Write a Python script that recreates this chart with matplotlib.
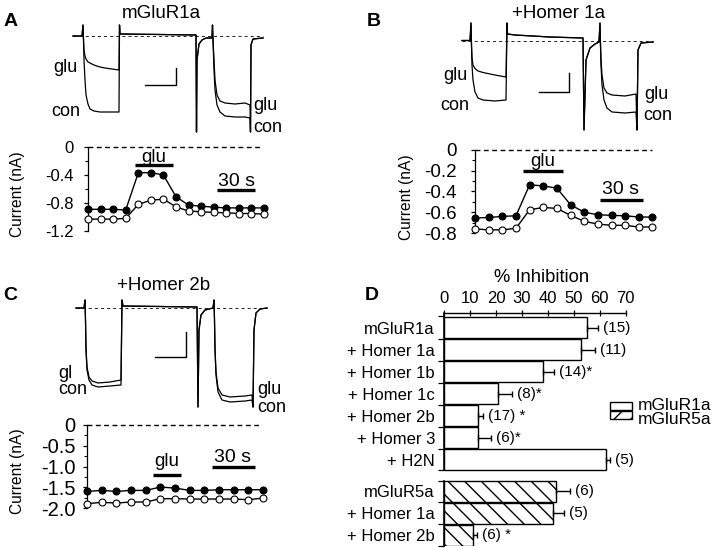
import numpy as np
import matplotlib
matplotlib.use('Agg')
import matplotlib.pyplot as plt
import matplotlib.transforms as mtransforms
from matplotlib.patches import Rectangle

plt.rcParams['font.family'] = ['Liberation Sans', 'DejaVu Sans']
plt.rcParams['axes.unicode_minus'] = False
plt.rcParams['lines.scale_dashes'] = False
plt.rcParams['hatch.linewidth'] = 1.0

# ---------------- data ----------------
# Panel A traces (time ms, current nA); glu and con share time vertices
a_trace_t = [0, 45, 50, 52.5, 55, 60, 65, 75, 85, 105, 135, 160, 230,
             232.5, 235, 435, 615, 617.5, 620, 630, 645, 665, 695,
             697.5, 700, 705, 710, 720, 735, 760, 810, 860, 885,
             887.5, 890, 900, 950]
a_trace_con = [0, 0, 0.11, -0.04, -0.24, -0.44, -0.59, -0.68, -0.73, -0.75, -0.76, -0.76, -0.76,
               0.11, 0.02, 0.015, 0.01, -0.96, -0.24, -0.08, -0.04, -0.02, -0.02,
               0.11, -0.04, -0.34, -0.54, -0.69, -0.76, -0.80, -0.81, -0.81, -0.82,
               -0.96, -0.09, -0.03, -0.02]
a_trace_glu = [0, 0, 0.11, -0.04, -0.14, -0.20, -0.23, -0.26, -0.27, -0.29, -0.31, -0.32, -0.34,
               0.11, 0.02, 0.015, 0.01, -0.96, -0.24, -0.08, -0.04, -0.02, -0.02,
               0.11, -0.04, -0.24, -0.44, -0.59, -0.65, -0.67, -0.68, -0.67, -0.69,
               -0.96, -0.09, -0.03, -0.02]
a_scalebar = [360, 155, -0.49, 0.17]   # t0, length, I0, height

# Panel B traces
b_trace_t = [0, 40, 45, 47.5, 50, 55, 65, 80, 105, 165, 220,
             225, 227.5, 265, 440, 605, 610, 620, 640, 665, 685,
             690, 692.5, 695, 700, 710, 725, 750, 815, 870,
             875, 880, 895, 955]
b_trace_con = [0, 0, 0.175, -0.045, -0.245, -0.395, -0.515, -0.575, -0.595, -0.605, -0.595,
               0.175, 0.065, 0.055, 0.035, 0.025, -0.895, -0.195, -0.075, -0.035, -0.015,
               0.175, -0.045, -0.245, -0.445, -0.595, -0.675, -0.715, -0.725, -0.715,
               -0.895, -0.095, -0.025, -0.015]
b_trace_glu = [0, 0, 0.175, -0.045, -0.175, -0.245, -0.28, -0.305, -0.32, -0.345, -0.365,
               0.175, 0.065, 0.055, 0.035, 0.025, -0.895, -0.195, -0.075, -0.035, -0.015,
               0.175, -0.045, -0.195, -0.345, -0.475, -0.525, -0.545, -0.555, -0.535,
               -0.895, -0.095, -0.025, -0.015]
b_scalebar = [385, 150, -0.515, 0.19]

# Panel C traces
c_trace_t = [0, 40, 45, 47.5, 50, 55, 65, 80, 110, 170, 225,
             230, 235, 420, 605, 610, 615, 625, 645, 685,
             690, 692.5, 695, 700, 710, 730, 770, 845, 880,
             885, 890, 900, 920, 955]
c_trace_con = [0, 0, 0.08, -0.12, -0.42, -0.62, -0.72, -0.77, -0.79, -0.78, -0.77,
               0.08, 0.02, 0.015, 0.01, -0.99, -0.22, -0.07, -0.02, 0,
               0.08, -0.12, -0.42, -0.67, -0.84, -0.92, -0.94, -0.93, -0.92,
               -0.99, -0.22, -0.05, -0.01, 0]
c_trace_glu = [0, 0, 0.08, -0.12, -0.40, -0.59, -0.69, -0.73, -0.75, -0.74, -0.72,
               0.08, 0.02, 0.015, 0.01, -0.99, -0.22, -0.07, -0.02, 0,
               0.08, -0.12, -0.40, -0.64, -0.80, -0.87, -0.89, -0.88, -0.87,
               -0.99, -0.22, -0.05, -0.01, 0]
c_scalebar = [395, 155, -0.49, 0.25]

# Time courses (s, nA)
a_time = [0, 10, 20, 30, 40, 50, 60, 70, 80, 90, 100, 110, 120, 130, 140]
a_filled = [-0.89, -0.89, -0.89, -0.90, -0.37, -0.365, -0.40, -0.71, -0.83, -0.845, -0.86, -0.87, -0.87, -0.87, -0.87]
a_open = [-1.03, -1.03, -1.03, -1.02, -0.82, -0.76, -0.745, -0.855, -0.915, -0.925, -0.935, -0.94, -0.95, -0.95, -0.96]
a_glu = [37.5, 67.5]
a_30s = [102.6, 132.9]

b_time = [0, 10, 20, 30, 40, 50, 60, 70, 80, 90, 100, 110, 120, 130]
b_filled = [-0.656, -0.65, -0.64, -0.634, -0.336, -0.346, -0.368, -0.528, -0.60, -0.624, -0.63, -0.634, -0.646, -0.646]
b_open = [-0.76, -0.77, -0.77, -0.755, -0.576, -0.554, -0.563, -0.63, -0.688, -0.714, -0.726, -0.726, -0.742, -0.742]
b_glu = [35.3, 64.7]
b_30s = [91.9, 122.8]

c_time = [0, 10, 20, 30, 40, 50, 60, 70, 80, 90, 100, 110, 120]
c_filled = [-1.60, -1.576, -1.60, -1.576, -1.576, -1.496, -1.52, -1.576, -1.576, -1.56, -1.56, -1.56, -1.56]
c_open = [-1.896, -1.864, -1.88, -1.856, -1.856, -1.776, -1.776, -1.784, -1.784, -1.784, -1.784, -1.80, -1.76]
c_glu = [45.0, 64.1]
c_30s = [85.2, 114.5]

# Panel D
d_labels = ["mGluR1a", "+ Homer 1a", "+ Homer 1b", "+ Homer 1c", "+ Homer 2b",
            "+ Homer 3", "+ H2N", "mGluR5a", "+ Homer 1a", "+ Homer 2b"]
d_values = [55.2, 52.9, 38.2, 20.9, 13.1, 12.9, 62.3, 43.1, 41.8, 11.0]
d_errors = [4.0, 5.3, 4.2, 5.1, 2.0, 5.1, 1.7, 5.4, 4.4, 1.7]
d_n = [15, 11, 14, 8, 17, 6, 5, 6, 5, 6]
d_sig = ["", "", "*", "*", " *", "*", "", "", "", " *"]
d_receptor = ["mGluR1a"] * 7 + ["mGluR5a"] * 3

# ---------------- figure ----------------
W, H = 720, 548
fig = plt.figure(figsize=(7.2, 5.48), dpi=100)


def rect(x0, y0, x1, y1):
    return [x0 / W, 1 - y1 / H, (x1 - x0) / W, (y1 - y0) / H]


def ftext(x, y, s, size=12, ha='center', va='center', **kw):
    fig.text(x / W, 1 - y / H, s, fontsize=size, ha=ha, va=va, **kw)


def trace_panel(px, tlim, ilim, t, con, glu, sb, base_end):
    ax = fig.add_axes(rect(*px))
    ax.set_xlim(tlim)
    ax.set_ylim(ilim)
    ax.axis('off')
    ax.plot([0, base_end], [0, 0], color='black', lw=0.6, ls=(0, (2.2, 2.2)))
    ax.plot(t, con, color='black', lw=0.9, clip_on=False)
    ax.plot(t, glu, color='black', lw=0.9, clip_on=False)
    t0, L, i0, h = sb
    ax.plot([t0, t0 + L, t0 + L], [i0, i0, i0 + h], color='black', lw=1.0)
    return ax


def course_panel(px, xmax, ylim, time, filled, opn, yt, ytl, minor, pad, tsize,
                 glu, glu_y, s30, s30_y, zero_end):
    ax = fig.add_axes(rect(*px))
    ax.set_xlim(0, xmax)
    ax.set_ylim(*ylim)
    for s in ['top', 'right', 'bottom']:
        ax.spines[s].set_visible(False)
    ax.spines['left'].set_linewidth(0.9)
    ax.set_xticks([])
    ax.set_yticks(yt)
    ax.set_yticklabels(ytl)
    ax.set_yticks(minor, minor=True)
    ax.tick_params(axis='y', which='major', length=3, width=0.9, pad=pad, labelsize=tsize)
    ax.tick_params(axis='y', which='minor', length=2, width=0.8)
    ax.plot([0, zero_end], [0, 0], color='black', lw=1.0, ls=(0, (3.5, 2.5)), clip_on=False)
    ax.plot(time, filled, color='black', lw=1.0, marker='o', ms=5, mfc='black',
            mec='black', mew=0.8, clip_on=False, zorder=3)
    ax.plot(time, opn, color='black', lw=1.0, marker='o', ms=5, mfc='white',
            mec='black', mew=0.8, clip_on=False, zorder=3)
    tr = mtransforms.blended_transform_factory(ax.transData, ax.transAxes)
    ax.plot(glu, [glu_y, glu_y], color='black', lw=2.4, transform=tr, clip_on=False,
            solid_capstyle='butt')
    ax.plot(s30, [s30_y, s30_y], color='black', lw=2.4, transform=tr, clip_on=False,
            solid_capstyle='butt')
    return ax


# ---- Panel A ----
ftext(11, 22, "A", size=14, weight='bold')
ftext(161, 14, "mGluR1a", size=13.5)
trace_panel((70, 18, 270, 140), (-15, 985), (-1.04, 0.18),
            a_trace_t, a_trace_con, a_trace_glu, a_scalebar, 950)
ftext(65, 68, "glu", size=13)
ftext(66, 112, "con", size=13)
ftext(253, 105, "glu", size=13, ha='left')
ftext(253, 127, "con", size=13, ha='left')

course_panel((88, 147, 270, 231), 144.8, (-1.2, 0), a_time, a_filled, a_open,
             [0, -0.4, -0.8, -1.2], ["0", "-0.4", "-0.8", "-1.2"], [-0.2, -0.6, -1.0],
             7.0, 12, a_glu, 0.786, a_30s, 0.488, 139)
ftext(154, 157, "glu", size=13.5)
ftext(236, 181, "30 s", size=14)
ftext(18, 194, "Current (nA)", size=11.2, rotation=90)

# ---- Panel B ----
ftext(374, 22, "B", size=14, weight='bold')
ftext(559, 14, "+Homer 1a", size=13.5)
trace_panel((455, 18, 660, 140), (-35, 990), (-0.995, 0.225),
            b_trace_t, b_trace_con, b_trace_glu, b_scalebar, 955)
ftext(455, 75, "glu", size=13)
ftext(455, 105, "con", size=13)
ftext(644, 94, "glu", size=13, ha='left')
ftext(643, 116, "con", size=13, ha='left')

course_panel((475, 150, 660, 233), 135.5, (-0.8, 0), b_time, b_filled, b_open,
             [0, -0.2, -0.4, -0.6, -0.8], ["0", "-0.2", "-0.4", "-0.6", "-0.8"],
             [-0.1, -0.3, -0.5, -0.7], 10.0, 13.5, b_glu, 0.747, b_30s, 0.398, 130)
ftext(543, 162, "glu", size=13.5)
ftext(621, 189, "30 s", size=14)
ftext(407, 197, "Current (nA)", size=11.2, rotation=90)

# ---- Panel C ----
ftext(10, 295, "C", size=14, weight='bold')
ftext(164, 285, "+Homer 2b", size=13.5)
ftext(58, 373, "gl", size=13, ha='left')
ftext(58, 390, "con", size=13, ha='left')
trace_panel((70, 290, 275, 412), (-30, 995), (-1.04, 0.18),
            c_trace_t, c_trace_con, c_trace_glu, c_scalebar, 955)
ftext(257, 389, "glu", size=13, ha='left')
ftext(257, 408, "con", size=13, ha='left')

course_panel((87, 425, 270, 508), 124.7, (-2.0, 0), c_time, c_filled, c_open,
             [0, -0.5, -1.0, -1.5, -2.0], ["0", "-0.5", "-1.0", "-1.5", "-2.0"],
             [-0.25, -0.75, -1.25, -1.75], 5.5, 14.5, c_glu, 0.398, c_30s, 0.494, 117)
ftext(167, 462, "glu", size=13.5)
ftext(233, 457, "30 s", size=14)
ftext(18, 471, "Current (nA)", size=11.2, rotation=90)

# ---- Panel D ----
ftext(372, 295, "D", size=14, weight='bold')
ftext(542, 278, "% Inhibition", size=13.2)
rows = [0, 1, 2, 3, 4, 5, 6, 7.45, 8.45, 9.45]
axd = fig.add_axes(rect(444.3, 313, 625.7, 546))
axd.set_xlim(0, 70)
axd.set_ylim(9.93, -0.659)
hatches = {"mGluR1a": "", "mGluR5a": "\\\\"}
for r, v, rec in zip(rows, d_values, d_receptor):
    axd.barh(r, v, height=0.93, color='white', edgecolor='black', linewidth=1.0,
             hatch=hatches[rec], zorder=2)
axd.errorbar(d_values, rows, xerr=[np.zeros(len(d_errors)), d_errors], fmt='none',
             ecolor='black', elinewidth=1.0, capsize=2.5, capthick=1.0, zorder=3)
for r, v, e, n, s in zip(rows, d_values, d_errors, d_n, d_sig):
    axd.annotate(f"({n}){s}", xy=(v + e, r), xytext=(3.5, 0), textcoords='offset points',
                 va='center', ha='left', fontsize=11)
for s in ['left', 'right', 'bottom']:
    axd.spines[s].set_visible(False)
axd.spines['top'].set_linewidth(1.0)
axd.xaxis.tick_top()
axd.set_xticks([0, 10, 20, 30, 40, 50, 60, 70])
axd.tick_params(axis='x', direction='inout', length=4, width=0.9, pad=3, labelsize=12)
axd.set_yticks(rows)
axd.set_yticklabels(d_labels)
axd.set_yticks([-0.5, 0.5, 1.5, 2.5, 3.5, 4.5, 5.5, 6.48, 6.98, 7.95, 8.95, 9.93], minor=True)
axd.tick_params(axis='y', which='major', length=0, pad=6.7, labelsize=12)
axd.tick_params(axis='y', which='minor', length=4, width=0.9, direction='out')
axd.plot([0, 0], [-0.659, 6.48], color='black', lw=1.2, clip_on=False, zorder=4)
axd.plot([0, 0], [6.98, 9.93], color='black', lw=1.2, clip_on=False, zorder=4)

# Legend (drawn manually to match stacked boxes)
fig.add_artist(Rectangle((610 / W, 1 - 410 / H), 22 / W, 8.5 / H, transform=fig.transFigure,
                         facecolor='white', edgecolor='black', lw=1.0))
fig.add_artist(Rectangle((610 / W, 1 - 419 / H), 22 / W, 8.5 / H, transform=fig.transFigure,
                         facecolor='white', edgecolor='black', lw=1.0, hatch='//'))
ftext(638, 405, "mGluR1a", size=12.5, ha='left')
ftext(638, 420, "mGluR5a", size=12.5, ha='left')

fig.savefig("out.png", dpi=100)
